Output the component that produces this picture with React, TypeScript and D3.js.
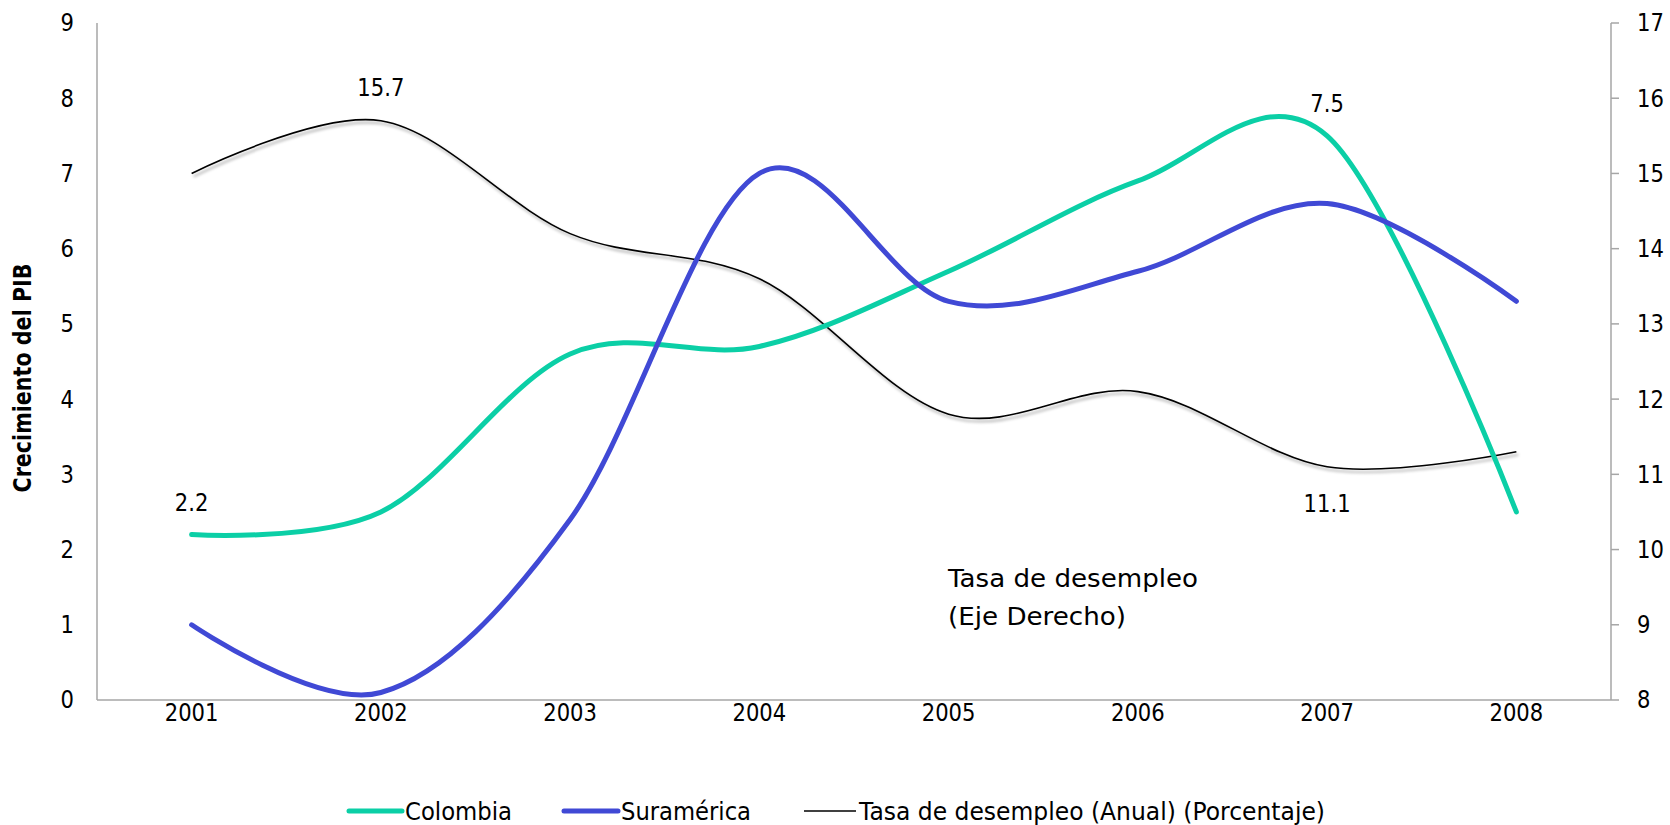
import React from "react";
import * as d3 from "d3";

const years = ["2001", "2002", "2003", "2004", "2005", "2006", "2007", "2008"];
const colombia = [2.2, 2.5, 4.6, 4.7, 5.7, 6.9, 7.5, 2.5];
const suramerica = [1.0, 0.1, 2.4, 7.0, 5.3, 5.7, 6.6, 5.3];
const desempleo = [15.0, 15.7, 14.2, 13.6, 11.8, 12.1, 11.1, 11.3];
const leftTicks = [0, 1, 2, 3, 4, 5, 6, 7, 8, 9];
const rightTicks = [8, 9, 10, 11, 12, 13, 14, 15, 16, 17];

const W = 1670;
const H = 825;
const M = { left: 97, right: 1611, top: 23, bottom: 700 };
const FONT = "'DejaVu Sans', Verdana, sans-serif";
const TEAL = "#0BCFA6";
const BLUE = "#4049D5";
const AXIS = "#A6A6A6";

export default function App() {
  const x = d3.scaleBand<string>().domain(years).range([M.left, M.right]);
  const cx = (d: string) => (x(d) as number) + x.bandwidth() / 2;
  const yL = d3.scaleLinear().domain([0, 9]).range([M.bottom, M.top]);
  const yR = d3.scaleLinear().domain([8, 17]).range([M.bottom, M.top]);

  const lineL = d3
    .line<number>()
    .x((_, i) => cx(years[i]))
    .y((v) => yL(v))
    .curve(d3.curveCardinal.tension(0));
  const lineR = d3
    .line<number>()
    .x((_, i) => cx(years[i]))
    .y((v) => yR(v))
    .curve(d3.curveCardinal.tension(0));

  const tickStyle = { fontFamily: FONT, fontSize: 24, fill: "#000" } as const;
  const sx = 0.88;

  const T = (props: {
    x: number;
    y: number;
    anchor?: string;
    children: React.ReactNode;
    size?: number;
    scale?: number;
  }) => (
    <text
      transform={`translate(${props.x},${props.y}) scale(${props.scale ?? sx},1)`}
      textAnchor={props.anchor ?? "middle"}
      dominantBaseline="central"
      style={{ ...tickStyle, fontSize: props.size ?? 24 }}
    >
      {props.children}
    </text>
  );

  const labels = [
    { text: "2.2", i: 0, v: colombia[0], s: yL, dy: -32 },
    { text: "15.7", i: 1, v: desempleo[1], s: yR, dy: -33 },
    { text: "7.5", i: 6, v: colombia[6], s: yL, dy: -32 },
    { text: "11.1", i: 6, v: desempleo[6], s: yR, dy: 37 },
  ];

  return (
    <svg
      width={W}
      height={H}
      style={{ position: "absolute", left: 0, top: 0, background: "#fff" }}
    >
      <defs>
        <filter id="shadow" x="-5%" y="-20%" width="110%" height="140%">
          <feDropShadow dx="2" dy="3" stdDeviation="1.6" floodColor="#000" floodOpacity="0.35" />
        </filter>
      </defs>
      <rect width={W} height={H} fill="#fff" />

      {/* axes */}
      <line x1={M.left} x2={M.left} y1={M.top} y2={M.bottom} stroke={AXIS} strokeWidth={1.5} />
      <line x1={M.left} x2={M.right} y1={M.bottom} y2={M.bottom} stroke={AXIS} strokeWidth={1.5} />
      <line x1={M.right} x2={M.right} y1={M.top} y2={M.bottom} stroke={AXIS} strokeWidth={1.5} />
      {rightTicks.map((t) => (
        <line key={"rt" + t} x1={M.right} x2={M.right + 8} y1={yR(t)} y2={yR(t)} stroke={AXIS} strokeWidth={1.5} />
      ))}

      {leftTicks.map((t) => (
        <T key={"l" + t} x={74} y={yL(t)} anchor="end">
          {t}
        </T>
      ))}
      {rightTicks.map((t) => (
        <T key={"r" + t} x={1637} y={yR(t)} anchor="start">
          {t}
        </T>
      ))}
      {years.map((yr) => (
        <T key={"x" + yr} x={cx(yr)} y={713}>
          {yr}
        </T>
      ))}

      <text
        transform={`translate(23,378) rotate(-90)`}
        textAnchor="middle"
        dominantBaseline="central"
        textLength={229}
        lengthAdjust="spacingAndGlyphs"
        style={{ fontFamily: FONT, fontSize: 24, fontWeight: "bold" }}
      >
        Crecimiento del PIB
      </text>

      {/* series */}
      <path d={lineR(desempleo) ?? ""} fill="none" stroke="#000" strokeWidth={1.6} filter="url(#shadow)" />
      <path d={lineL(colombia) ?? ""} fill="none" stroke={TEAL} strokeWidth={5} strokeLinecap="round" />
      <path d={lineL(suramerica) ?? ""} fill="none" stroke={BLUE} strokeWidth={5} strokeLinecap="round" />

      {labels.map((l) => (
        <T key={"dl" + l.text} x={cx(years[l.i])} y={l.s(l.v) + l.dy}>
          {l.text}
        </T>
      ))}

      <text
        x={948}
        y={578}
        dominantBaseline="central"
        textLength={250}
        lengthAdjust="spacingAndGlyphs"
        style={{ fontFamily: FONT, fontSize: 25 }}
      >
        Tasa de desempleo
      </text>
      <text
        x={948}
        y={616}
        dominantBaseline="central"
        textLength={178}
        lengthAdjust="spacingAndGlyphs"
        style={{ fontFamily: FONT, fontSize: 25 }}
      >
        (Eje Derecho)
      </text>

      {/* legend */}
      <line x1={349} x2={402} y1={811} y2={811} stroke={TEAL} strokeWidth={5} strokeLinecap="round" />
      <text x={405} y={811} dominantBaseline="central" textLength={107} lengthAdjust="spacingAndGlyphs" style={{ fontFamily: FONT, fontSize: 25 }}>
        Colombia
      </text>
      <line x1={564} x2={618} y1={811} y2={811} stroke={BLUE} strokeWidth={5} strokeLinecap="round" />
      <text x={621} y={811} dominantBaseline="central" textLength={130} lengthAdjust="spacingAndGlyphs" style={{ fontFamily: FONT, fontSize: 25 }}>
        Suramérica
      </text>
      <line x1={804} x2={856} y1={811} y2={811} stroke="#000" strokeWidth={1.6} />
      <text x={859} y={811} dominantBaseline="central" textLength={466} lengthAdjust="spacingAndGlyphs" style={{ fontFamily: FONT, fontSize: 25 }}>
        Tasa de desempleo (Anual) (Porcentaje)
      </text>
    </svg>
  );
}
